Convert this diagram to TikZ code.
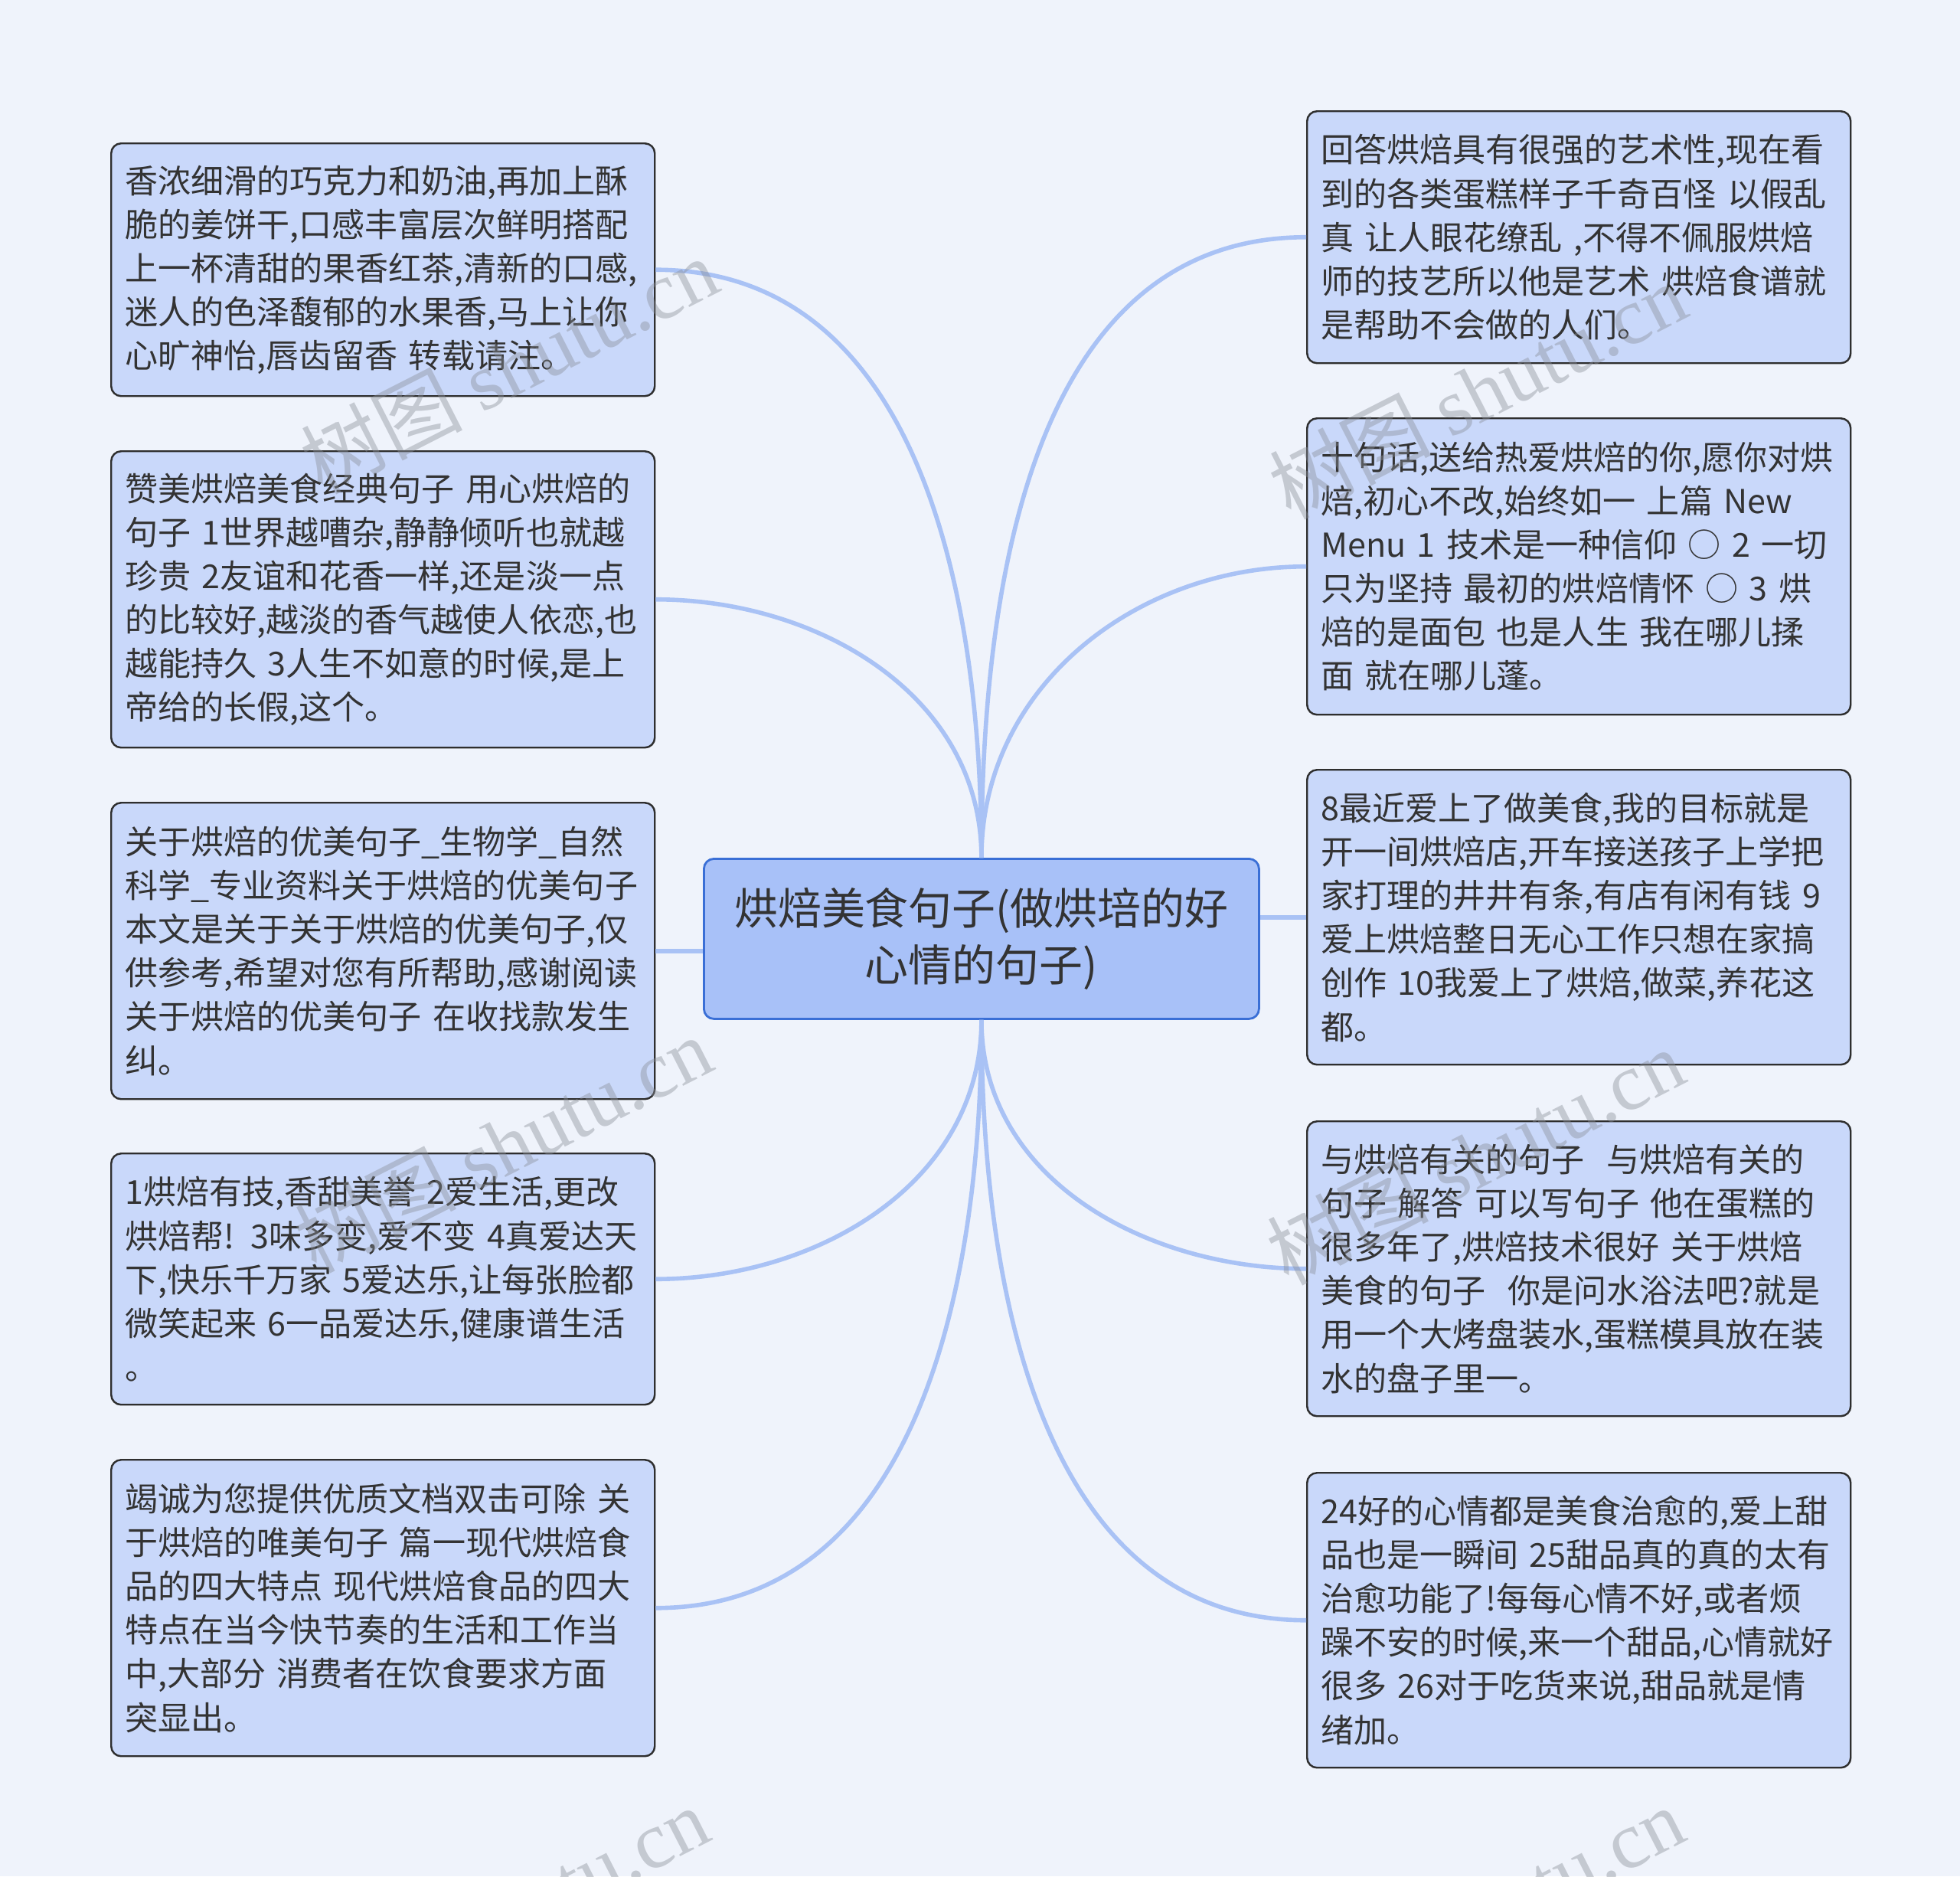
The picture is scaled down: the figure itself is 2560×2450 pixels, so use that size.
\documentclass[tikz,border=0pt]{standalone}
\usepackage{fontspec}
\setmainfont{Noto Sans CJK SC}
\newfontfamily\wmserif{Liberation Serif}
\definecolor{bgblue}{HTML}{EFF3FB}
\definecolor{leaffill}{HTML}{C9D8FA}
\definecolor{leafline}{HTML}{2E2E2E}
\definecolor{rootfill}{HTML}{A8C1F8}
\definecolor{rootline}{HTML}{3A6FD6}
\definecolor{branchcol}{HTML}{A9C2F5}
\definecolor{inktext}{HTML}{333333}
\definecolor{wmgray}{HTML}{8A8F99}
\begin{document}
\begin{tikzpicture}[x=0.1mm, y=-0.1mm, line join=round,
  leaf/.style={draw=leafline, fill=leaffill, line width=0.7pt, rounded corners=0.13cm,
    anchor=north west, minimum width=7.1cm, text width=6.74cm, inner xsep=0.18cm,
    inner ysep=0.05cm, align=left, text=inktext, font=\fontsize{12.25pt}{16.25pt}\selectfont},
  root/.style={draw=rootline, fill=rootfill, line width=0.8pt, rounded corners=0.13cm,
    anchor=north west, minimum width=7.25cm, minimum height=2.09cm, text width=7cm,
    align=center, text=inktext, font=\fontsize{16.2pt}{20.8pt}\selectfont},
  branch/.style={draw=branchcol, line width=1.6pt},
  wmark/.style={text=wmgray, text opacity=0.42, rotate=27, font=\fontsize{30pt}{34pt}\selectfont}]
% ==========================================
\clip (0,0) rectangle (2560,2450);
\fill[bgblue] (0,0) rectangle (2560,2450);
% Trung tam
\node[root] (c) at (918,1120) {烘焙美食句子(做烘培的好\\心情的句子)};
% Nhanh trai
\node[leaf, minimum height=3.3cm] (l1) at (144,186) {香浓细滑的巧克力和奶油,再加上酥\\脆的姜饼干,口感丰富层次鲜明搭配\\上一杯清甜的果香红茶,清新的口感,\\迷人的色泽馥郁的水果香,马上让你\\心旷神怡,唇齿留香 转载请注。};
\node[leaf, minimum height=3.87cm] (l2) at (144,588) {赞美烘焙美食经典句子 用心烘焙的\\句子 1世界越嘈杂,静静倾听也就越\\珍贵 2友谊和花香一样,还是淡一点\\的比较好,越淡的香气越使人依恋,也\\越能持久 3人生不如意的时候,是上\\帝给的长假,这个。};
\node[leaf, minimum height=3.87cm] (l3) at (144,1047) {关于烘焙的优美句子\_生物学\_自然\\科学\_专业资料关于烘焙的优美句子\\本文是关于关于烘焙的优美句子,仅\\供参考,希望对您有所帮助,感谢阅读\\关于烘焙的优美句子 在收找款发生\\纠。};
\node[leaf, minimum height=3.28cm] (l4) at (144,1505) {1烘焙有技,香甜美誉 2爱生活,更改\\烘焙帮! 3味多变,爱不变 4真爱达天\\下,快乐千万家 5爱达乐,让每张脸都\\微笑起来 6一品爱达乐,健康谱生活\\。};
\node[leaf, minimum height=3.87cm] (l5) at (144,1905) {竭诚为您提供优质文档双击可除 关\\于烘焙的唯美句子 篇一现代烘焙食\\品的四大特点 现代烘焙食品的四大\\特点在当今快节奏的生活和工作当\\中,大部分 消费者在饮食要求方面\\突显出。};
% Nhanh phai
\node[leaf, minimum height=3.29cm] (r1) at (1706,144) {回答烘焙具有很强的艺术性,现在看\\到的各类蛋糕样子千奇百怪 以假乱\\真 让人眼花缭乱 ,不得不佩服烘焙\\师的技艺所以他是艺术 烘焙食谱就\\是帮助不会做的人们。};
\node[leaf, minimum height=3.87cm] (r2) at (1706,545) {十句话,送给热爱烘焙的你,愿你对烘\\焙,初心不改,始终如一 上篇 New\\Menu 1 技术是一种信仰 ○ 2 一切\\只为坚持 最初的烘焙情怀 ○ 3 烘\\焙的是面包 也是人生 我在哪儿揉\\面 就在哪儿蓬。};
\node[leaf, minimum height=3.85cm] (r3) at (1706,1004) {8最近爱上了做美食,我的目标就是\\开一间烘焙店,开车接送孩子上学把\\家打理的井井有条,有店有闲有钱 9\\爱上烘焙整日无心工作只想在家搞\\创作 10我爱上了烘焙,做菜,养花这\\都。};
\node[leaf, minimum height=3.85cm] (r4) at (1706,1463) {与烘焙有关的句子~~与烘焙有关的\\句子 解答 可以写句子 他在蛋糕的\\很多年了,烘焙技术很好 关于烘焙\\美食的句子~~你是问水浴法吧?就是\\用一个大烤盘装水,蛋糕模具放在装\\水的盘子里一。};
\node[leaf, minimum height=3.85cm] (r5) at (1706,1922) {24好的心情都是美食治愈的,爱上甜\\品也是一瞬间 25甜品真的真的太有\\治愈功能了!每每心情不好,或者烦\\躁不安的时候,来一个甜品,心情就好\\很多 26对于吃货来说,甜品就是情\\绪加。};
% Duong noi
\draw[branch] (c.north) to[out=90, in=0] (l1.east);
\draw[branch] (c.north) to[out=90, in=0] (l2.east);
\draw[branch] (c.west |- l3.east) -- (l3.east);
\draw[branch] (c.south) to[out=-90, in=0] (l4.east);
\draw[branch] (c.south) to[out=-90, in=0] (l5.east);
\draw[branch] (c.north) to[out=90, in=180] (r1.west);
\draw[branch] (c.north) to[out=90, in=180] (r2.west);
\draw[branch] (c.east |- r3.west) -- (r3.west);
\draw[branch] (c.south) to[out=-90, in=180] (r4.west);
\draw[branch] (c.south) to[out=-90, in=180] (r5.west);
% Watermark
\node[wmark] (w1) at (665,477) {树图 {\wmserif shutu.cn}};
\node[wmark] (w2) at (1930,510) {树图 {\wmserif shutu.cn}};
\node[wmark] (w3) at (657,1494) {树图 {\wmserif shutu.cn}};
\node[wmark] (w4) at (1927,1510) {树图 {\wmserif shutu.cn}};
\node[wmark] (w5) at (653,2500) {树图 {\wmserif shutu.cn}};
\node[wmark] (w6) at (1927,2500) {树图 {\wmserif shutu.cn}};
\end{tikzpicture}
\end{document}
